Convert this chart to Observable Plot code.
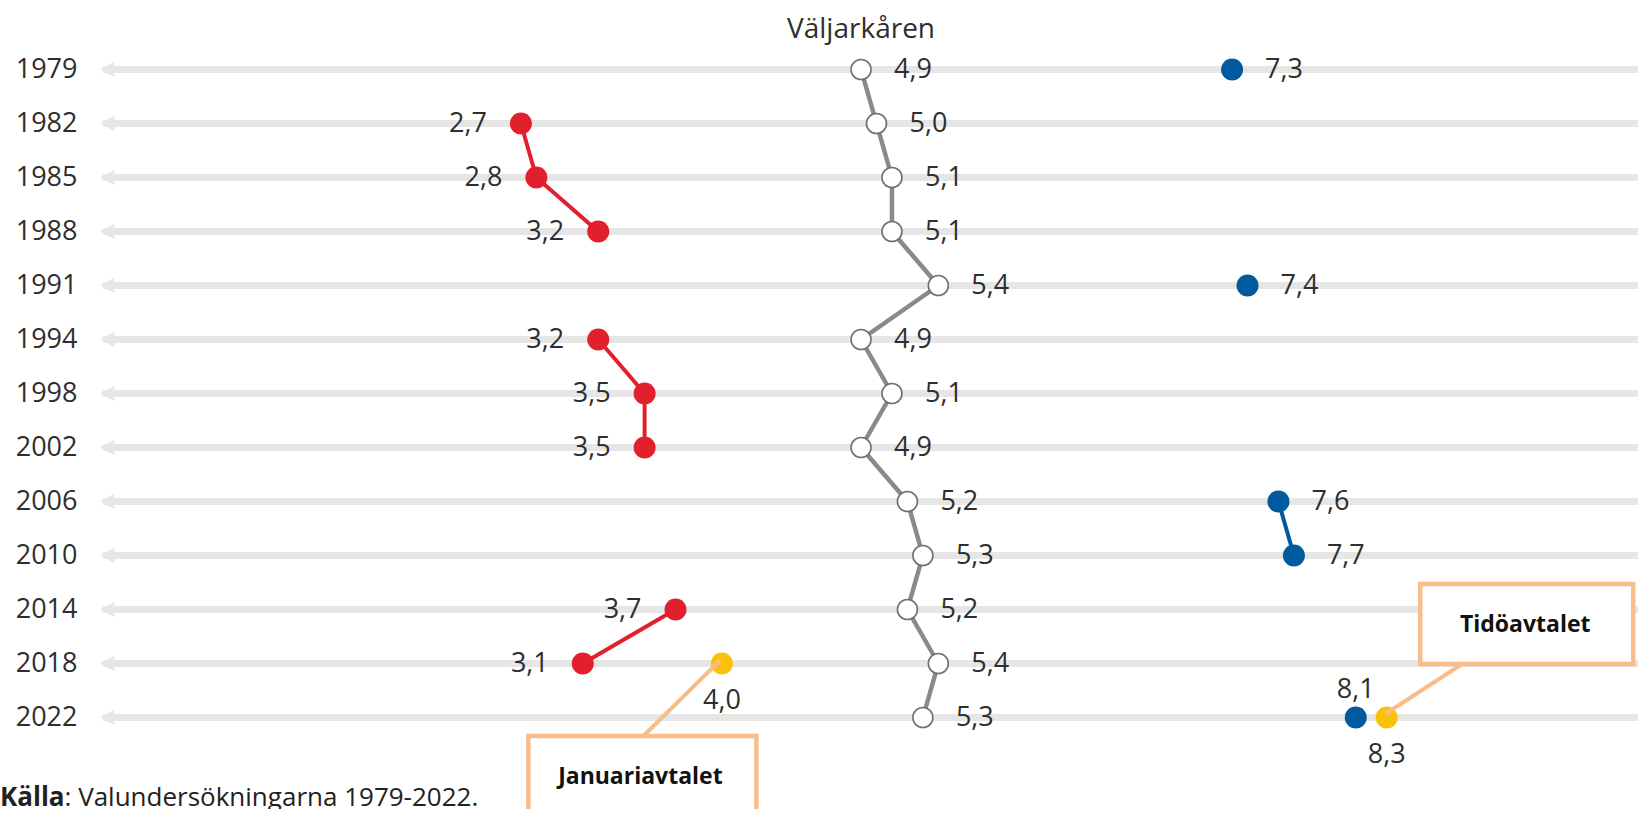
<!DOCTYPE html>
<html>
<head>
<meta charset="utf-8">
<script src="https://cdn.jsdelivr.net/npm/d3@7"></script>
<script src="https://cdn.jsdelivr.net/npm/@observablehq/plot@0.6"></script>
<style>
  html, body { margin: 0; padding: 0; background: #fff; overflow: hidden; }
  #chart svg { display: block; overflow: visible; }
  #caption {
    font-family: "Open Sans", sans-serif;
    font-size: 26px;
    line-height: 26px;
    color: #222;
    white-space: nowrap;
    margin: 0;
  }
</style>
</head>
<body>
<div id="chart"></div>
<div id="caption"><b>Källa</b>: Valundersökningarna 1979-2022.</div>
<script>
// ---- data ----
const years        = [1979, 1982, 1985, 1988, 1991, 1994, 1998, 2002, 2006, 2010, 2014, 2018, 2022];
const electorate   = [4.9, 5.0, 5.1, 5.1, 5.4, 4.9, 5.1, 4.9, 5.2, 5.3, 5.2, 5.4, 5.3];
const redSeries    = [null, 2.7, 2.8, 3.2, null, 3.2, 3.5, 3.5, null, null, 3.7, 3.1, null];
const blueSeries   = [7.3, null, null, null, 7.4, null, null, null, 7.6, 7.7, null, null, 8.1];
const yellowSeries = [null, null, null, null, null, null, null, null, null, null, null, 4.0, 8.3];
const agreements   = [null, null, null, null, null, null, null, null, null, null, null, "Januariavtalet", "Tidöavtalet"];
const seriesTitle  = "Väljarkåren";
const xDomain      = [0, 10];

// ---- table ----
const rows = years.map((year, i) => ({
  year,
  electorate: electorate[i],
  red: redSeries[i],
  blue: blueSeries[i],
  yellow: yellowSeries[i],
  agreement: agreements[i]
}));

const fmt = v => d3.format(".1f")(v).replace(".", ",");
const FONT = '"Open Sans", sans-serif';
const RED = "#e2202d", BLUE = "#005a9e", YELLOW = "#fbc10a";
const BAR = "#e6e6e6", GREYLINE = "#8a8a8a", TEXT = "#2e2e2e";
const ORANGE = "#f8bd8b";

// arrowhead symbols (size = pi r^2)
const leftHead = { draw(ctx, size) { const r = Math.sqrt(size / Math.PI); ctx.moveTo(-r, 0); ctx.lineTo(r * 0.9, -r); ctx.lineTo(r * 0.9, r); ctx.closePath(); } };
const rightHead = { draw(ctx, size) { const r = Math.sqrt(size / Math.PI); ctx.moveTo(r, 0); ctx.lineTo(-r * 0.9, -r); ctx.lineTo(-r * 0.9, r); ctx.closePath(); } };

const W = 1638, H = 783;
const plot = Plot.plot({
  width: W,
  height: H,
  marginTop: 68,
  marginBottom: 65,
  marginLeft: 103,
  marginRight: 0,
  style: { fontFamily: FONT, fontSize: "27px", color: TEXT, background: "#fff", overflow: "visible" },
  x: { domain: xDomain, range: [103, 1649], axis: null },
  y: { type: "point", domain: years, padding: 0, tickSize: 0, tickPadding: 26, label: null, tickFormat: d => String(d) },
  marks: [
    Plot.ruleY(rows, { y: "year", x1: d => xDomain[0], x2: d => xDomain[1], stroke: BAR, strokeWidth: 7 }),
    Plot.dot(rows, { x: d => xDomain[0], y: "year", symbol: leftHead, r: 7.5, fill: BAR, dx: 4 }),
    Plot.dot(rows, { x: d => xDomain[1], y: "year", symbol: rightHead, r: 7.5, fill: BAR, dx: -4 }),

    Plot.line(rows, { x: "electorate", y: "year", stroke: GREYLINE, strokeWidth: 4.5 }),
    Plot.line(rows, { x: "red", y: "year", stroke: RED, strokeWidth: 4 }),
    Plot.line(rows, { x: "blue", y: "year", stroke: BLUE, strokeWidth: 4 }),

    Plot.dot(rows, { x: "electorate", y: "year", r: 10, fill: "white", stroke: "#707070", strokeWidth: 1.6 }),
    Plot.dot(rows, { x: "red", y: "year", r: 11, fill: RED }),
    Plot.dot(rows, { x: "blue", y: "year", r: 11, fill: BLUE }),
    Plot.dot(rows, { x: "yellow", y: "year", r: 11, fill: YELLOW }),

    Plot.text(rows, { x: "electorate", y: "year", text: d => fmt(d.electorate), textAnchor: "start", dx: 33, fill: TEXT }),
    Plot.text(rows.filter(d => d.red != null), { x: "red", y: "year", text: d => fmt(d.red), textAnchor: "end", dx: -34, fill: TEXT }),
    Plot.text(rows.filter(d => d.blue != null && d.yellow == null), { x: "blue", y: "year", text: d => fmt(d.blue), textAnchor: "start", dx: 33, fill: TEXT }),
    Plot.text(rows.filter(d => d.blue != null && d.yellow != null), { x: "blue", y: "year", text: d => fmt(d.blue), textAnchor: "middle", dy: -28, fill: TEXT }),
    Plot.text(rows.filter(d => d.yellow != null), { x: "yellow", y: "year", text: d => fmt(d.yellow), textAnchor: "middle", dy: 37, fill: TEXT }),

    Plot.text([rows[0]], { x: "electorate", y: "year", text: d => seriesTitle, textAnchor: "middle", dy: -40, fontSize: 28, fill: TEXT })
  ]
});

document.getElementById("chart").appendChild(plot);

// ---- annotation boxes, positioned with the plot's own scales ----
const xs = plot.scale("x"), ys = plot.scale("y");
const fx = xs.apply ? v => xs.apply(v) : d3.scaleLinear(xs.domain, xs.range);
const fy = ys.apply ? v => ys.apply(v)
  : d3.scalePoint(ys.domain, ys.range).padding(ys.padding || 0).align(ys.align == null ? 0.5 : ys.align);

// box layout relative to the anchored point
const boxLayouts = {
  below: { left: -193, right: 35, top: 73, bottom: 170, cx: -78, cy: 73, tx: -81, ty: 113 },
  above: { left: 34, right: 247, top: -133, bottom: -53, cx: 76, cy: -53, tx: 139, ty: -93 }
};
const svg = d3.select(plot);
const g = svg.append("g").attr("class", "annotations");
rows.filter(d => d.agreement != null).forEach(d => {
  const px = fx(d.yellow), py = fy(d.year);
  const L = d.year === years[years.length - 1] ? boxLayouts.above : boxLayouts.below;
  g.append("line")
    .attr("x1", px + L.cx).attr("y1", py + L.cy)
    .attr("x2", px - 1).attr("y2", py - 3)
    .attr("stroke", ORANGE).attr("stroke-width", 4);
  g.append("rect")
    .attr("x", px + L.left).attr("y", py + L.top)
    .attr("width", L.right - L.left).attr("height", L.bottom - L.top)
    .attr("fill", "white").attr("stroke", ORANGE).attr("stroke-width", 4.5);
  g.append("text")
    .attr("x", px + L.tx).attr("y", py + L.ty)
    .attr("text-anchor", "middle").attr("dy", "0.35em")
    .attr("font-family", FONT).attr("font-weight", "bold").attr("font-size", 23)
    .attr("fill", "#111")
    .text(d.agreement);
});
</script>
</body>
</html>
